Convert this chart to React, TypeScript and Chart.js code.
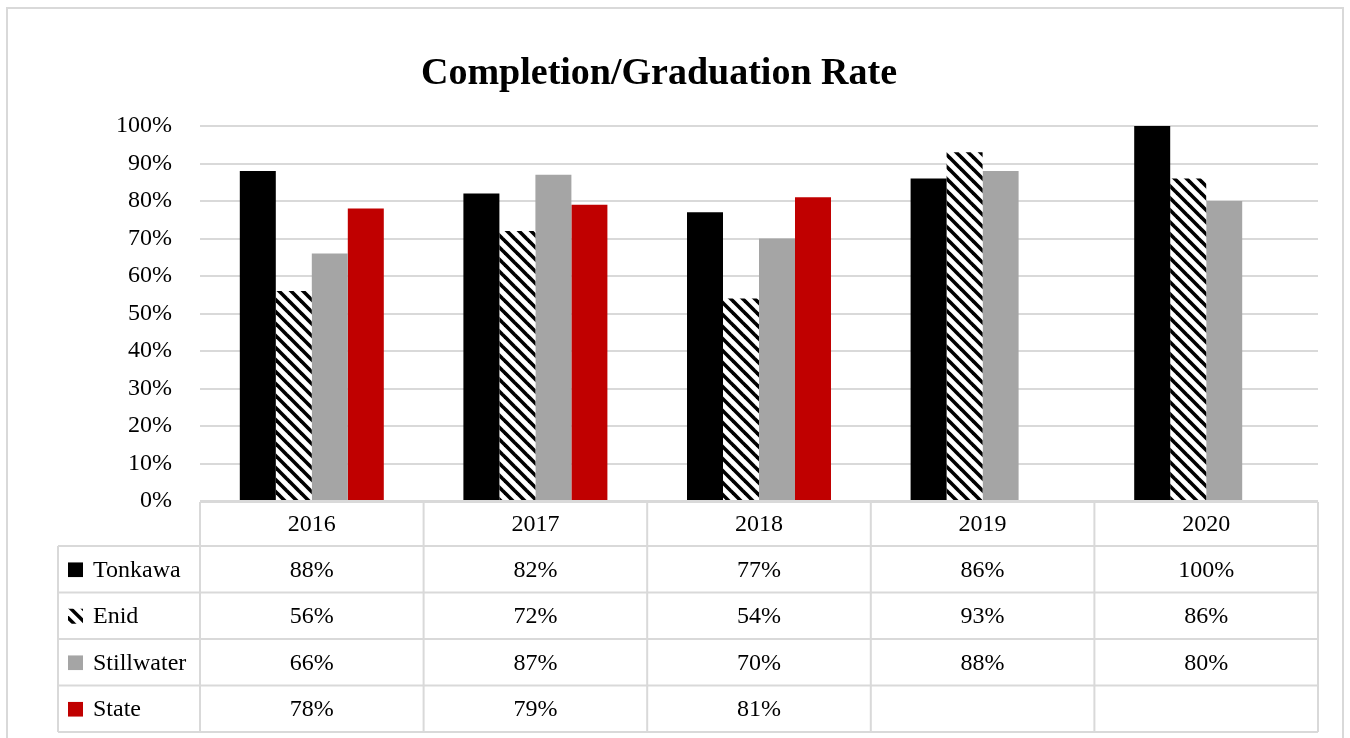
import React, { useEffect, useRef } from "react";
import { Chart, registerables } from "chart.js";

Chart.register(...registerables);

// ---- data ----
const categories = ["2016", "2017", "2018", "2019", "2020"];
const seriesNames = ["Tonkawa", "Enid", "Stillwater", "State"];
const tonkawa = [88, 82, 77, 86, 100];
const enid = [56, 72, 54, 93, 86];
const stillwater = [66, 87, 70, 88, 80];
const state: (number | null)[] = [78, 79, 81, null, null];
const chartTitle = "Completion/Graduation Rate";

// ---- styles ----
const FONT = "'Liberation Serif', 'Times New Roman', serif";
const GRID = "#d9d9d9";
const BLACK = "#000000";
const GRAY = "#a5a5a5";
const RED = "#c00000";

function makeHatch(): CanvasPattern | string {
  const p = 12;
  const c = document.createElement("canvas");
  c.width = p;
  c.height = p;
  const g = c.getContext("2d");
  if (!g) return BLACK;
  g.fillStyle = "#ffffff";
  g.fillRect(0, 0, p, p);
  g.strokeStyle = "#000000";
  g.lineWidth = 3.6;
  for (let k = -1; k <= 1; k++) {
    g.beginPath();
    g.moveTo(k * p - 2, -2);
    g.lineTo(k * p + p + 2, p + 2);
    g.stroke();
  }
  const pat = g.createPattern(c, "repeat");
  return pat || BLACK;
}

const tablePlugin = {
  id: "dataTable",
  beforeDraw(chart: any) {
    const ctx = chart.ctx;
    ctx.save();
    ctx.fillStyle = "#ffffff";
    ctx.fillRect(0, 0, chart.width, chart.height);
    // outer frame
    ctx.strokeStyle = GRID;
    ctx.lineWidth = 2;
    ctx.strokeRect(7, 8, 1336, 760);
    // title
    ctx.fillStyle = BLACK;
    ctx.font = "bold 38px " + FONT;
    ctx.textAlign = "center";
    ctx.textBaseline = "alphabetic";
    ctx.fillText(chartTitle, 659, 84);
    ctx.restore();
  },
  afterDraw(chart: any) {
    const ctx = chart.ctx;
    const area = chart.chartArea;
    const n = categories.length;
    const colW = (area.right - area.left) / n;
    const bounds: number[] = [];
    for (let i = 0; i <= n; i++) bounds.push(area.left + i * colW);
    const top = area.bottom + 1;
    const headerH = 44;
    const rowH = 46.5;
    const firstColLeft = 58;
    const rows = chart.data.datasets.length;
    const rowTops: number[] = [top];
    rowTops.push(top + headerH);
    for (let r = 1; r <= rows; r++) rowTops.push(top + headerH + r * rowH);
    const bottom = rowTops[rowTops.length - 1];

    ctx.save();
    ctx.strokeStyle = GRID;
    ctx.lineWidth = 2;
    // horizontal lines
    ctx.beginPath();
    ctx.moveTo(area.left, top);
    ctx.lineTo(area.right, top);
    for (let i = 1; i < rowTops.length; i++) {
      ctx.moveTo(firstColLeft, rowTops[i]);
      ctx.lineTo(area.right, rowTops[i]);
    }
    // vertical lines
    for (let i = 0; i <= n; i++) {
      ctx.moveTo(bounds[i], top);
      ctx.lineTo(bounds[i], bottom);
    }
    ctx.moveTo(firstColLeft, rowTops[1]);
    ctx.lineTo(firstColLeft, bottom);
    ctx.stroke();

    ctx.fillStyle = BLACK;
    ctx.font = "24px " + FONT;
    ctx.textBaseline = "middle";
    ctx.textAlign = "center";
    for (let c = 0; c < n; c++) {
      const cx = (bounds[c] + bounds[c + 1]) / 2;
      ctx.fillText(categories[c], cx, (rowTops[0] + rowTops[1]) / 2 + 1);
    }
    for (let r = 0; r < rows; r++) {
      const ds = chart.data.datasets[r];
      const cy = (rowTops[r + 1] + rowTops[r + 2]) / 2 + 1;
      ctx.textAlign = "center";
      ctx.fillStyle = BLACK;
      for (let c = 0; c < n; c++) {
        const v = ds.data[c];
        if (v === null || v === undefined) continue;
        const cx = (bounds[c] + bounds[c + 1]) / 2;
        ctx.fillText(v + "%", cx, cy);
      }
      // legend key
      const kx = 68;
      const ks = 15;
      const ky = cy - 8;
      ctx.save();
      ctx.beginPath();
      ctx.rect(kx, ky, ks, ks);
      ctx.clip();
      if (typeof ds.backgroundColor === "string") {
        ctx.fillStyle = ds.backgroundColor;
        ctx.fillRect(kx, ky, ks, ks);
      } else {
        ctx.fillStyle = "#ffffff";
        ctx.fillRect(kx, ky, ks, ks);
        ctx.strokeStyle = BLACK;
        ctx.lineWidth = 3.4;
        for (let k = -1; k <= 1; k++) {
          ctx.beginPath();
          ctx.moveTo(kx + k * 12 + 1, ky - 2);
          ctx.lineTo(kx + k * 12 + 1 + 19, ky + 17);
          ctx.stroke();
        }
      }
      ctx.restore();
      ctx.textAlign = "left";
      ctx.fillStyle = BLACK;
      ctx.fillText(ds.label, 93, cy);
    }
    ctx.restore();
  },
};

export default function App() {
  const ref = useRef<HTMLCanvasElement>(null);
  useEffect(() => {
    if (!ref.current) return;
    const hatch = makeHatch();
    const seriesValues = [tonkawa, enid, stillwater, state];
    const colors: any[] = [BLACK, hatch, GRAY, RED];
    const chart = new Chart(ref.current, {
      type: "bar",
      data: {
        labels: categories,
        datasets: seriesNames.map((name, i) => ({
          label: name,
          data: seriesValues[i] as any,
          backgroundColor: colors[i],
          borderWidth: 0,
          barPercentage: 1,
          categoryPercentage: 0.644,
        })),
      },
      options: {
        responsive: false,
        animation: false,
        devicePixelRatio: 1,
        layout: { padding: { left: 0, right: 32, top: 126, bottom: 237 } },
        plugins: {
          legend: { display: false },
          title: { display: false },
          tooltip: { enabled: false },
        },
        scales: {
          x: { display: false, grid: { display: false } },
          y: {
            min: 0,
            max: 100,
            border: { display: false },
            grid: { color: GRID, lineWidth: 2, drawTicks: false },
            ticks: {
              stepSize: 10,
              padding: 28,
              color: BLACK,
              font: { family: FONT, size: 24 },
              callback: (v: any) => v + "%",
            },
            afterFit: (scale: any) => {
              scale.width = 200;
            },
          },
        },
      },
      plugins: [tablePlugin],
    });
    return () => chart.destroy();
  }, []);
  return (
    <div style={{ position: "fixed", left: 0, top: 0, width: 1350, height: 738, background: "#fff" }}>
      <canvas ref={ref} width={1350} height={738} style={{ display: "block" }} />
    </div>
  );
}
